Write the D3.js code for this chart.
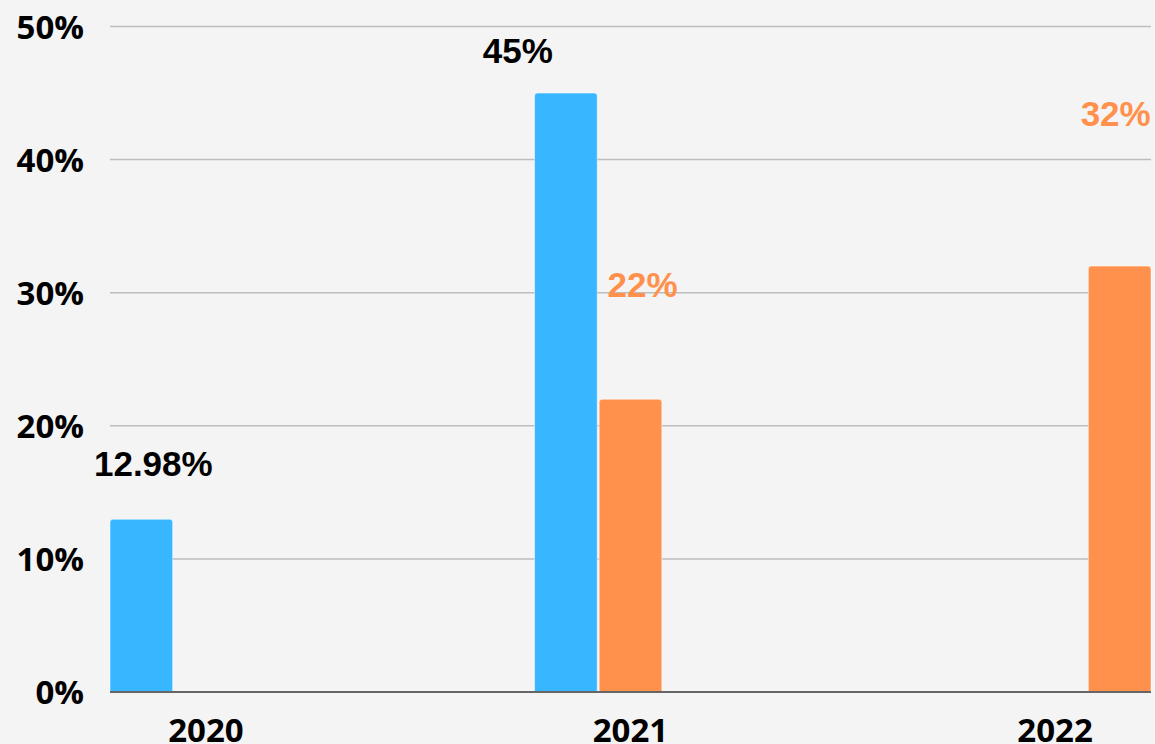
<!DOCTYPE html>
<html>
<head>
<meta charset="utf-8">
<script src="https://cdn.jsdelivr.net/npm/d3@7"></script>
<style>
  html, body { margin: 0; padding: 0; background: #f4f4f4; }
  svg { display: block; }
</style>
</head>
<body>
<svg id="chart"></svg>
<script>
// data
const categories = ["2020", "2021", "2022"];
const seriesNames = ["Series 1", "Series 2", "Series 3"];
const series1 = [12.98, 45, null];
const series2 = [null, 22, null];
const series3 = [null, null, 32];
const yTicks = [0, 10, 20, 30, 40, 50];

const width = 1155;
const height = 744;
const colors = ["#38b6ff", "#ff914d", "#ff914d"];
const labelColors = ["#000000", "#ff914d", "#ff914d"];

// the value labels in the original sit at odd spots, nudge them (px from bar top / centre)
const labelNudge = {
    "2020|Series 1": [12, -43],
    "2021|Series 1": [-48, -30],
    "2021|Series 2": [12, -102],
    "2022|Series 3": [-4, -140]
};

const svg = d3.select("#chart")
    .attr("width", width)
    .attr("height", height);

svg.append("rect")
    .attr("width", width)
    .attr("height", height)
    .attr("fill", "#f4f4f4");

const x0 = d3.scaleBand()
    .domain(categories)
    .range([110, 1151])
    .paddingInner(0.548)
    .paddingOuter(0);

const x1 = d3.scaleBand()
    .domain(seriesNames)
    .range([0, x0.bandwidth()])
    .paddingInner(0.03);

const y = d3.scaleLinear()
    .domain([0, 50])
    .range([692, 26.5]);

// gridlines
svg.append("g")
    .selectAll("line")
    .data(yTicks.filter(t => t > 0))
    .enter()
    .append("line")
    .attr("x1", 110)
    .attr("x2", 1151)
    .attr("y1", t => y(t))
    .attr("y2", t => y(t))
    .attr("stroke", "#bdbdbd")
    .attr("stroke-width", 1.5);

// y tick labels
svg.append("g")
    .selectAll("text")
    .data(yTicks)
    .enter()
    .append("text")
    .attr("x", 84)
    .attr("y", t => y(t) + 12)
    .attr("text-anchor", "end")
    .attr("font-family", "'Open Sans', sans-serif")
    .attr("font-weight", 700)
    .attr("font-size", 33)
    .attr("fill", "#000")
    .text(t => t + "%");

// flatten the series into bars
const allSeries = [series1, series2, series3];
const bars = [];
categories.forEach((c, i) => {
    allSeries.forEach((s, j) => {
        if (s[i] != null) {
            bars.push({ category: c, series: seriesNames[j], idx: j, value: s[i] });
        }
    });
});

const barPath = d => {
    const x = x0(d.category) + x1(d.series);
    const w = x1.bandwidth();
    const top = y(d.value);
    const bottom = y(0);
    const r = 3;
    return `M${x},${bottom} L${x},${top + r} Q${x},${top} ${x + r},${top} ` +
        `L${x + w - r},${top} Q${x + w},${top} ${x + w},${top + r} L${x + w},${bottom} Z`;
};

svg.append("g")
    .selectAll("path")
    .data(bars)
    .enter()
    .append("path")
    .attr("d", barPath)
    .attr("fill", d => colors[d.idx])
    .attr("stroke", "rgba(255,255,255,0.5)")
    .attr("stroke-width", 1);

// baseline
svg.append("line")
    .attr("x1", 110)
    .attr("x2", 1151)
    .attr("y1", y(0))
    .attr("y2", y(0))
    .attr("stroke", "#666")
    .attr("stroke-width", 2);

// value labels
svg.append("g")
    .selectAll("text")
    .data(bars)
    .enter()
    .append("text")
    .attr("x", d => {
        const n = labelNudge[d.category + "|" + d.series] || [0, -10];
        return x0(d.category) + x1(d.series) + x1.bandwidth() / 2 + n[0];
    })
    .attr("y", d => {
        const n = labelNudge[d.category + "|" + d.series] || [0, -10];
        return y(d.value) + n[1];
    })
    .attr("text-anchor", "middle")
    .attr("font-family", "'Liberation Sans', Arial, sans-serif")
    .attr("font-weight", 700)
    .attr("font-size", 35)
    .attr("fill", d => labelColors[d.idx])
    .text(d => d.value + "%");

// category labels (cut by the bottom edge, as in the original)
svg.append("g")
    .selectAll("text")
    .data(categories)
    .enter()
    .append("text")
    .attr("x", c => x0(c) + x0.bandwidth() / 2)
    .attr("y", 742)
    .attr("text-anchor", "middle")
    .attr("font-family", "'Open Sans', sans-serif")
    .attr("font-weight", 700)
    .attr("font-size", 33)
    .attr("fill", "#000")
    .text(c => c);
</script>
</body>
</html>
